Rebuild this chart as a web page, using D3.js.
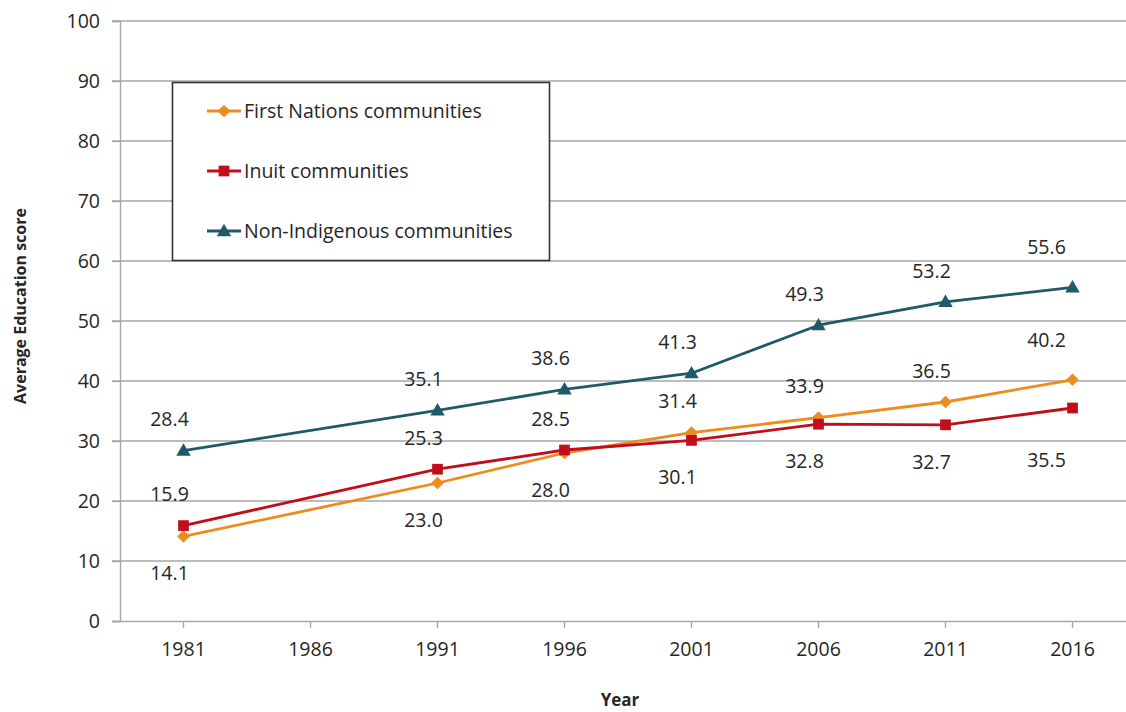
<!DOCTYPE html>
<html>
<head>
<meta charset="utf-8">
<script src="https://cdn.jsdelivr.net/npm/d3@7/dist/d3.min.js"></script>
<style>
  html, body { margin: 0; padding: 0; background: #fff; }
  svg { display: block; font-family: "Open Sans", "Noto Sans", sans-serif; }
</style>
</head>
<body>
<svg id="chart" width="1126" height="712"></svg>
<script>
// Census years shown on the category axis
const years = ["1981", "1986", "1991", "1996", "2001", "2006", "2011", "2016"];

// Average education score per community type (no 1986 observation)
const firstNations = [14.1, null, 23.0, 28.0, 31.4, 33.9, 36.5, 40.2];
const inuit        = [15.9, null, 25.3, 28.5, 30.1, 32.8, 32.7, 35.5];
const nonIndigenous = [28.4, null, 35.1, 38.6, 41.3, 49.3, 53.2, 55.6];

// Which side of its point each value label sits on
const firstNationsLabelSide  = ["below", null, "below", "below", "above", "above", "above", "above"];
const inuitLabelSide         = ["above", null, "above", "above", "below", "below", "below", "below"];
const nonIndigenousLabelSide = ["above", null, "above", "above", "above", "above", "above", "above"];

const yTicks = [0, 10, 20, 30, 40, 50, 60, 70, 80, 90, 100];

const seriesNames = ["First Nations communities", "Inuit communities", "Non-Indigenous communities"];

const series = [
  { name: seriesNames[0], values: firstNations, sides: firstNationsLabelSide, color: "#ED8B1C", shape: "diamond" },
  { name: seriesNames[1], values: inuit, sides: inuitLabelSide, color: "#C20E1A", shape: "square" },
  { name: seriesNames[2], values: nonIndigenous, sides: nonIndigenousLabelSide, color: "#1F5A68", shape: "triangle" }
];

const svg = d3.select("#chart");
const W = 1126, H = 712;
const plot = { left: 120, top: 21, bottom: 621, right: 1136 };
const fs = 19.5;

const x = d3.scaleBand().domain(years).range([plot.left, plot.right]);
const xc = d => x(d) + x.bandwidth() / 2;
const y = d3.scaleLinear().domain([0, 100]).range([plot.bottom, plot.top]);

const gridColor = "#A6A6A6";
const textColor = "#262626";

// Horizontal gridlines
svg.append("g")
  .selectAll("line")
  .data(yTicks.filter(t => t > 0))
  .join("line")
  .attr("x1", plot.left - 8).attr("x2", W)
  .attr("y1", d => y(d)).attr("y2", d => y(d))
  .attr("stroke", gridColor).attr("stroke-width", 1.4);

// Y axis
const yAxis = svg.append("g")
  .attr("transform", `translate(${plot.left},0)`)
  .call(d3.axisLeft(y).tickValues(yTicks).tickSize(8).tickPadding(12).tickFormat(d3.format("d")));
yAxis.select(".domain").attr("stroke", gridColor).attr("stroke-width", 1.4);
yAxis.selectAll(".tick line").attr("stroke", gridColor).attr("stroke-width", 1.4);
yAxis.selectAll("text").attr("font-size", fs).attr("fill", textColor)
  .attr("font-family", "'Open Sans', sans-serif");

// X axis
const xAxis = svg.append("g")
  .attr("transform", `translate(0,${plot.bottom})`)
  .call(d3.axisBottom(x).tickSize(7).tickPadding(14).tickSizeOuter(0));
xAxis.select(".domain").attr("stroke", gridColor).attr("stroke-width", 1.4)
  .attr("d", `M${plot.left - 8},0.5H${W}`);
xAxis.selectAll(".tick line").attr("stroke", gridColor).attr("stroke-width", 1.4);
xAxis.selectAll("text").attr("font-size", fs).attr("fill", textColor)
  .attr("font-family", "'Open Sans', sans-serif");

// Axis titles
svg.append("text")
  .attr("x", 620).attr("y", 706)
  .attr("text-anchor", "middle")
  .attr("font-size", 17).attr("font-weight", "bold").attr("fill", textColor)
  .text("Year");
svg.append("text")
  .attr("transform", "translate(26,306) rotate(-90)")
  .attr("text-anchor", "middle")
  .attr("font-size", 16).attr("font-weight", "bold").attr("fill", textColor)
  .text("Average Education score");

// Marker shapes (diamond = square turned 45°)
const symbolFor = {
  diamond: d3.symbol().type(d3.symbolSquare).size(80),
  square: d3.symbol().type(d3.symbolSquare).size(115),
  triangle: d3.symbol().type(d3.symbolTriangle).size(90)
};
const markerTransform = (shape, cx, cy) =>
  shape === "diamond" ? `translate(${cx},${cy}) rotate(45)`
  : shape === "triangle" ? `translate(${cx},${cy + 1})`
  : `translate(${cx},${cy})`;

const line = d3.line()
  .defined(d => d.v != null)
  .x(d => xc(d.year))
  .y(d => y(d.v));

series.forEach(s => {
  const pts = years.map((yr, i) => ({ year: yr, v: s.values[i], side: s.sides[i] }));
  const present = pts.filter(p => p.v != null);
  const g = svg.append("g");
  g.append("path")
    .datum(present)
    .attr("d", line)
    .attr("fill", "none")
    .attr("stroke", s.color)
    .attr("stroke-width", 2.8)
    .attr("stroke-linejoin", "round");
  g.selectAll("path.m")
    .data(present)
    .join("path")
    .attr("class", "m")
    .attr("d", symbolFor[s.shape])
    .attr("transform", d => markerTransform(s.shape, xc(d.year), y(d.v)))
    .attr("fill", s.color);
});

// Value labels
series.forEach(s => {
  const pts = years.map((yr, i) => ({ year: yr, v: s.values[i], side: s.sides[i] }))
    .filter(p => p.v != null);
  svg.append("g")
    .selectAll("text")
    .data(pts)
    .join("text")
    .attr("x", d => xc(d.year) - (d.year === "2016" ? 26 : 14))
    .attr("y", d => y(d.v) + (d.side === "above" ? (d.year === "2016" ? -40 : -31) : (d.year === "2016" ? 52 : 37)))
    .attr("dy", "0.35em")
    .attr("text-anchor", "middle")
    .attr("font-size", fs)
    .attr("fill", textColor)
    .text(d => d3.format(".1f")(d.v));
});

// Legend
const legend = svg.append("g");
legend.append("rect")
  .attr("x", 172.5).attr("y", 82.5).attr("width", 377).attr("height", 178)
  .attr("fill", "#fff").attr("stroke", "#333").attr("stroke-width", 1.6);
series.forEach((s, i) => {
  const ly = 111 + i * 60;
  legend.append("line")
    .attr("x1", 207).attr("x2", 241).attr("y1", ly).attr("y2", ly)
    .attr("stroke", s.color).attr("stroke-width", 2.8);
  legend.append("path")
    .attr("d", symbolFor[s.shape])
    .attr("transform", markerTransform(s.shape, 224, ly))
    .attr("fill", s.color);
  legend.append("text")
    .attr("x", 244).attr("y", ly).attr("dy", "0.35em")
    .attr("font-size", fs).attr("fill", textColor)
    .text(s.name);
});
</script>
</body>
</html>
